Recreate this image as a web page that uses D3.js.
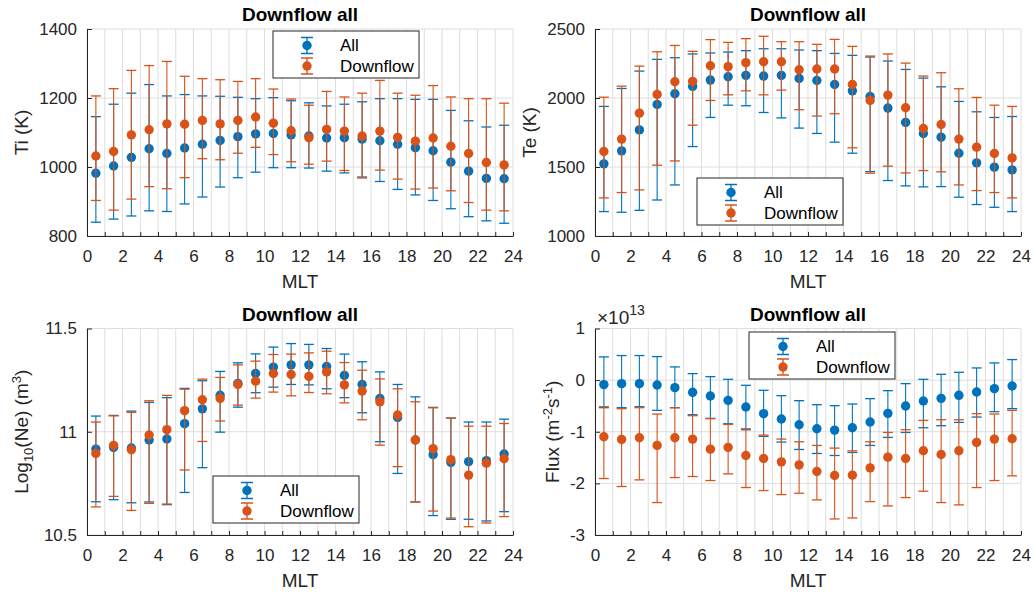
<!DOCTYPE html>
<html>
<head>
	<meta charset="utf-8">
	<title>Downflow all</title>
	<script type="text/javascript" src="https://d3js.org/d3.v7.min.js"></script>
	<style>
		body { margin: 0; background: #fff; }
		text { font-family: "Liberation Sans", Arial, Helvetica, sans-serif; }
	</style>
</head>
<body>
	<div id="chart"></div>
	<script>
	// MLT bin centres
	var mlt = [0.5, 1.5, 2.5, 3.5, 4.5, 5.5, 6.5, 7.5, 8.5, 9.5, 10.5, 11.5,
		12.5, 13.5, 14.5, 15.5, 16.5, 17.5, 18.5, 19.5, 20.5, 21.5, 22.5, 23.5];
	var seriesNames = ["All", "Downflow"];

	// Ti (K)
	var tiAll    = [982,1003,1028,1053,1039,1055,1066,1077,1088,1096,1097,1093,1090,1084,1085,1081,1076,1066,1056,1047,1014,988,967,966];
	var tiAllLo  = [840,849,858,873,871,893,913,942,969,985,998,998,997,988,983,971,958,935,919,903,879,856,844,837];
	var tiAllHi  = [1146,1182,1214,1239,1206,1210,1206,1205,1202,1198,1201,1192,1186,1177,1182,1189,1198,1198,1196,1196,1164,1134,1116,1121];
	var tiDown   = [1032,1045,1093,1108,1125,1124,1135,1125,1135,1145,1127,1105,1085,1109,1104,1090,1104,1086,1075,1084,1060,1039,1013,1006];
	var tiDownLo = [903,875,907,943,937,969,1024,1021,1040,1057,1036,1015,1008,1017,990,968,991,965,936,939,931,897,875,873];
	var tiDownHi = [1206,1227,1280,1294,1306,1263,1256,1253,1248,1256,1226,1197,1179,1219,1203,1214,1251,1214,1208,1236,1203,1198,1198,1185];

	// Te (K)
	var teAll    = [1523,1617,1769,1953,2031,2084,2130,2154,2164,2159,2164,2142,2127,2098,2052,2011,1927,1823,1743,1716,1600,1530,1499,1479];
	var teAllLo  = [1177,1172,1186,1261,1370,1648,1859,1948,1944,1895,1856,1782,1743,1680,1600,1467,1402,1363,1356,1358,1281,1228,1208,1177];
	var teAllHi  = [1939,2069,2195,2280,2292,2319,2326,2333,2343,2357,2357,2348,2343,2323,2309,2297,2268,2207,2144,2081,1975,1900,1859,1866];
	var teDown   = [1612,1702,1890,2026,2118,2120,2234,2227,2256,2263,2263,2205,2210,2210,2098,1982,2021,1929,1779,1808,1702,1644,1598,1566];
	var teDownLo = [1276,1315,1334,1513,1544,1803,1982,2023,2052,2023,2057,1915,1869,1886,1639,1455,1506,1457,1474,1465,1370,1329,1315,1276];
	var teDownHi = [2006,2086,2231,2335,2381,2338,2423,2403,2430,2447,2408,2408,2389,2425,2374,2304,2319,2253,2159,2183,2067,2004,1948,1939];

	// log10(Ne) (m^3)
	var neAll    = [10.916,10.924,10.921,10.96,10.965,11.039,11.111,11.177,11.234,11.282,11.313,11.324,11.324,11.316,11.273,11.229,11.161,11.069,10.96,10.889,10.852,10.855,10.86,10.892];
	var neAllLo  = [10.661,10.671,10.656,10.66,10.647,10.706,10.826,10.998,11.119,11.189,11.216,11.229,11.227,11.208,11.165,11.092,10.952,10.798,10.66,10.594,10.576,10.576,10.568,10.613];
	var neAllHi  = [11.076,11.079,11.1,11.142,11.165,11.21,11.247,11.292,11.334,11.377,11.41,11.427,11.423,11.403,11.376,11.339,11.29,11.229,11.169,11.118,11.066,11.047,11.047,11.061];
	var neDown   = [10.895,10.934,10.913,10.984,11.01,11.102,11.155,11.161,11.229,11.245,11.282,11.277,11.268,11.29,11.227,11.197,11.145,11.081,10.96,10.918,10.865,10.79,10.848,10.869];
	var neDownLo = [10.636,10.687,10.619,10.653,10.65,10.815,10.953,11.052,11.129,11.163,11.192,11.174,11.19,11.184,11.14,11.058,10.935,10.831,10.66,10.616,10.582,10.54,10.558,10.589];
	var neDownHi = [11.047,11.077,11.094,11.15,11.176,11.206,11.255,11.263,11.324,11.342,11.374,11.376,11.382,11.39,11.335,11.298,11.256,11.208,11.145,11.116,11.066,11.027,11.027,11.04];

	// Flux, in units of 1e13 m^-2 s^-1
	var fluxAll    = [-0.087,-0.068,-0.068,-0.094,-0.146,-0.236,-0.307,-0.392,-0.521,-0.65,-0.754,-0.864,-0.942,-0.968,-0.922,-0.812,-0.644,-0.502,-0.405,-0.353,-0.294,-0.23,-0.165,-0.113];
	var fluxAllLo  = [-0.534,-0.534,-0.515,-0.586,-0.534,-0.67,-0.741,-0.845,-0.961,-1.09,-1.2,-1.343,-1.421,-1.46,-1.401,-1.265,-1.11,-1.013,-0.922,-0.883,-0.819,-0.715,-0.612,-0.553];
	var fluxAllHi  = [0.45,0.476,0.476,0.456,0.256,0.126,0.068,0.016,-0.1,-0.197,-0.301,-0.398,-0.476,-0.495,-0.463,-0.359,-0.204,-0.068,0.016,0.113,0.152,0.236,0.333,0.398];
	var fluxDown   = [-1.097,-1.149,-1.117,-1.265,-1.117,-1.142,-1.337,-1.304,-1.46,-1.518,-1.583,-1.641,-1.77,-1.848,-1.841,-1.699,-1.492,-1.518,-1.369,-1.44,-1.369,-1.207,-1.142,-1.136];
	var fluxDownLo = [-1.906,-2.061,-1.932,-2.372,-1.887,-1.867,-1.945,-1.816,-2.081,-2.139,-2.217,-2.191,-2.32,-2.689,-2.67,-2.353,-2.437,-2.275,-2.152,-2.372,-2.417,-2.081,-1.945,-1.854];
	var fluxDownHi = [-0.515,-0.553,-0.534,-0.657,-0.534,-0.689,-0.747,-0.858,-0.942,-1.065,-1.142,-1.194,-1.265,-1.317,-1.369,-1.194,-1.013,-0.961,-0.78,-0.767,-0.767,-0.65,-0.657,-0.586];

	var xTicks = [0, 2, 4, 6, 8, 10, 12, 14, 16, 18, 20, 22, 24];
	var tiTicks = [800, 1000, 1200, 1400];
	var teTicks = [1000, 1500, 2000, 2500];
	var neTicks = [10.5, 11, 11.5];
	var fluxTicks = [-3, -2, -1, 0, 1];

	var width = 1033;
	var height = 594;
	var colors = ["#0072BD", "#D95319"];
	var axisColor = "#262626";
	var gridColor = "#dedede";

	var svg = d3.select("#chart")
		.append("svg")
		.attr("width", width)
		.attr("height", height);

	svg.append("rect").attr("width", width).attr("height", height).attr("fill", "#fff");

	function drawPanel(p) {
		var x = d3.scaleLinear().domain([0, 24]).range([p.left, p.right]);
		var y = d3.scaleLinear().domain(p.yDomain).range([p.bottom, p.top]);
		var g = svg.append("g");

		// grid: every MLT hour, and major y ticks
		g.selectAll(".vgrid")
			.data(d3.range(0, 25))
			.enter()
			.append("line")
			.attr("x1", function(d){ return x(d); })
			.attr("x2", function(d){ return x(d); })
			.attr("y1", p.top)
			.attr("y2", p.bottom)
			.attr("stroke", gridColor);
		g.selectAll(".hgrid")
			.data(p.yTicks)
			.enter()
			.append("line")
			.attr("x1", p.left)
			.attr("x2", p.right)
			.attr("y1", function(d){ return y(d); })
			.attr("y2", function(d){ return y(d); })
			.attr("stroke", gridColor);

		// axes (ticks pointing inward like matlab)
		var xAxis = g.append("g")
			.attr("transform", "translate(0," + p.bottom + ")")
			.call(d3.axisBottom(x)
				.tickValues(d3.range(0, 25))
				.tickSizeInner(-4)
				.tickSizeOuter(0)
				.tickPadding(14)
				.tickFormat(function(d){ return xTicks.indexOf(d) >= 0 ? d : ""; }));
		var yAxis = g.append("g")
			.attr("transform", "translate(" + p.left + ",0)")
			.call(d3.axisLeft(y)
				.tickValues(p.yTicks)
				.tickSizeInner(-5)
				.tickSizeOuter(0)
				.tickPadding(10)
				.tickFormat(function(d){ return String(d); }));
		[xAxis, yAxis].forEach(function(a){
			a.select(".domain").attr("stroke", axisColor);
			a.selectAll(".tick line").attr("stroke", axisColor);
			a.selectAll(".tick text")
				.attr("fill", axisColor)
				.style("font-size", "17px")
				.style("font-family", "'Liberation Sans', Arial, Helvetica, sans-serif");
		});

		// error bars, one series after the other
		p.series.forEach(function(s, si){
			var sg = g.append("g");
			var pts = mlt.map(function(m, i){
				return { m: m, v: s.val[i], lo: s.lo[i], hi: s.hi[i] };
			});
			sg.selectAll(".stem").data(pts).enter().append("line")
				.attr("x1", function(d){ return x(d.m); })
				.attr("x2", function(d){ return x(d.m); })
				.attr("y1", function(d){ return y(d.lo); })
				.attr("y2", function(d){ return y(d.hi); })
				.attr("stroke", colors[si]).attr("stroke-width", 1.1);
			["lo", "hi"].forEach(function(k){
				sg.selectAll(".cap" + k).data(pts).enter().append("line")
					.attr("x1", function(d){ return x(d.m) - 5; })
					.attr("x2", function(d){ return x(d.m) + 5; })
					.attr("y1", function(d){ return y(d[k]); })
					.attr("y2", function(d){ return y(d[k]); })
					.attr("stroke", colors[si]).attr("stroke-width", 1.3);
			});
			sg.selectAll("circle").data(pts).enter().append("circle")
				.attr("cx", function(d){ return x(d.m); })
				.attr("cy", function(d){ return y(d.v); })
				.attr("r", 4.7)
				.attr("fill", colors[si]);
		});

		// title and labels
		g.append("text")
			.attr("x", (p.left + p.right) / 2)
			.attr("y", p.top - 8)
			.attr("text-anchor", "middle")
			.style("font-size", "19px")
			.style("font-weight", "bold")
			.text("Downflow all");
		g.append("text")
			.attr("x", (p.left + p.right) / 2)
			.attr("y", p.bottom + 52)
			.attr("text-anchor", "middle")
			.attr("fill", axisColor)
			.style("font-size", "19px")
			.text("MLT");
		var yl = g.append("text")
			.attr("transform", "translate(" + p.yLabelX + "," + ((p.top + p.bottom) / 2) + ") rotate(-90)")
			.attr("text-anchor", "middle")
			.attr("fill", axisColor)
			.style("font-size", "19px");
		p.yLabel.forEach(function(part){
			var t = yl.append("tspan").text(part.t);
			if (part.dy) t.attr("dy", part.dy);
			if (part.small) t.style("font-size", "13px");
		});

		// legend
		var lg = g.append("g").attr("transform", "translate(" + p.legend[0] + "," + p.legend[1] + ")");
		lg.append("rect")
			.attr("width", 146).attr("height", 47)
			.attr("fill", "#fff").attr("stroke", axisColor).attr("stroke-width", 1);
		seriesNames.forEach(function(name, i){
			var cy = i === 0 ? 14.5 : 35;
			lg.append("line").attr("x1", 34).attr("x2", 34).attr("y1", cy - 8).attr("y2", cy + 8)
				.attr("stroke", colors[i]).attr("stroke-width", 1.3);
			lg.append("line").attr("x1", 28).attr("x2", 40).attr("y1", cy - 8).attr("y2", cy - 8)
				.attr("stroke", colors[i]).attr("stroke-width", 1.5);
			lg.append("line").attr("x1", 28).attr("x2", 40).attr("y1", cy + 8).attr("y2", cy + 8)
				.attr("stroke", colors[i]).attr("stroke-width", 1.5);
			lg.append("circle").attr("cx", 34).attr("cy", cy).attr("r", 4.7).attr("fill", colors[i]);
			lg.append("text").attr("x", 67).attr("y", cy).attr("dy", "0.35em")
				.attr("fill", "#000")
				.style("font-size", "17px")
				.text(name);
		});
		return g;
	}

	drawPanel({
		left: 87, right: 513, top: 29, bottom: 236,
		yDomain: [800, 1400], yTicks: tiTicks,
		yLabelX: 28, yLabel: [{t: "Ti (K)"}],
		legend: [273, 31],
		series: [
			{val: tiAll, lo: tiAllLo, hi: tiAllHi},
			{val: tiDown, lo: tiDownLo, hi: tiDownHi}
		]
	});

	drawPanel({
		left: 595, right: 1021, top: 29, bottom: 236,
		yDomain: [1000, 2500], yTicks: teTicks,
		yLabelX: 536, yLabel: [{t: "Te (K)"}],
		legend: [697, 178],
		series: [
			{val: teAll, lo: teAllLo, hi: teAllHi},
			{val: teDown, lo: teDownLo, hi: teDownHi}
		]
	});

	drawPanel({
		left: 87, right: 513, top: 328.5, bottom: 535,
		yDomain: [10.5, 11.5], yTicks: neTicks,
		yLabelX: 28,
		yLabel: [{t: "Log"}, {t: "10", dy: 5, small: true}, {t: "(Ne) (m", dy: -5},
			{t: "3", dy: -7, small: true}, {t: ")", dy: 7}],
		legend: [213, 476],
		series: [
			{val: neAll, lo: neAllLo, hi: neAllHi},
			{val: neDown, lo: neDownLo, hi: neDownHi}
		]
	});

	var fluxPanel = drawPanel({
		left: 595, right: 1021, top: 328.5, bottom: 535,
		yDomain: [-3, 1], yTicks: fluxTicks,
		yLabelX: 559,
		yLabel: [{t: "Flux (m"}, {t: "-2", dy: -7, small: true}, {t: "s", dy: 7},
			{t: "-1", dy: -7, small: true}, {t: ")", dy: 7}],
		legend: [749, 332],
		series: [
			{val: fluxAll, lo: fluxAllLo, hi: fluxAllHi},
			{val: fluxDown, lo: fluxDownLo, hi: fluxDownHi}
		]
	});

	// exponent label for the flux axis
	var ex = fluxPanel.append("text")
		.attr("x", 597)
		.attr("y", 324)
		.attr("fill", axisColor)
		.style("font-size", "19px");
	ex.append("tspan").text("\u00d710");
	ex.append("tspan").attr("dy", -9).style("font-size", "14px").text("13");
	</script>
</body>
</html>
